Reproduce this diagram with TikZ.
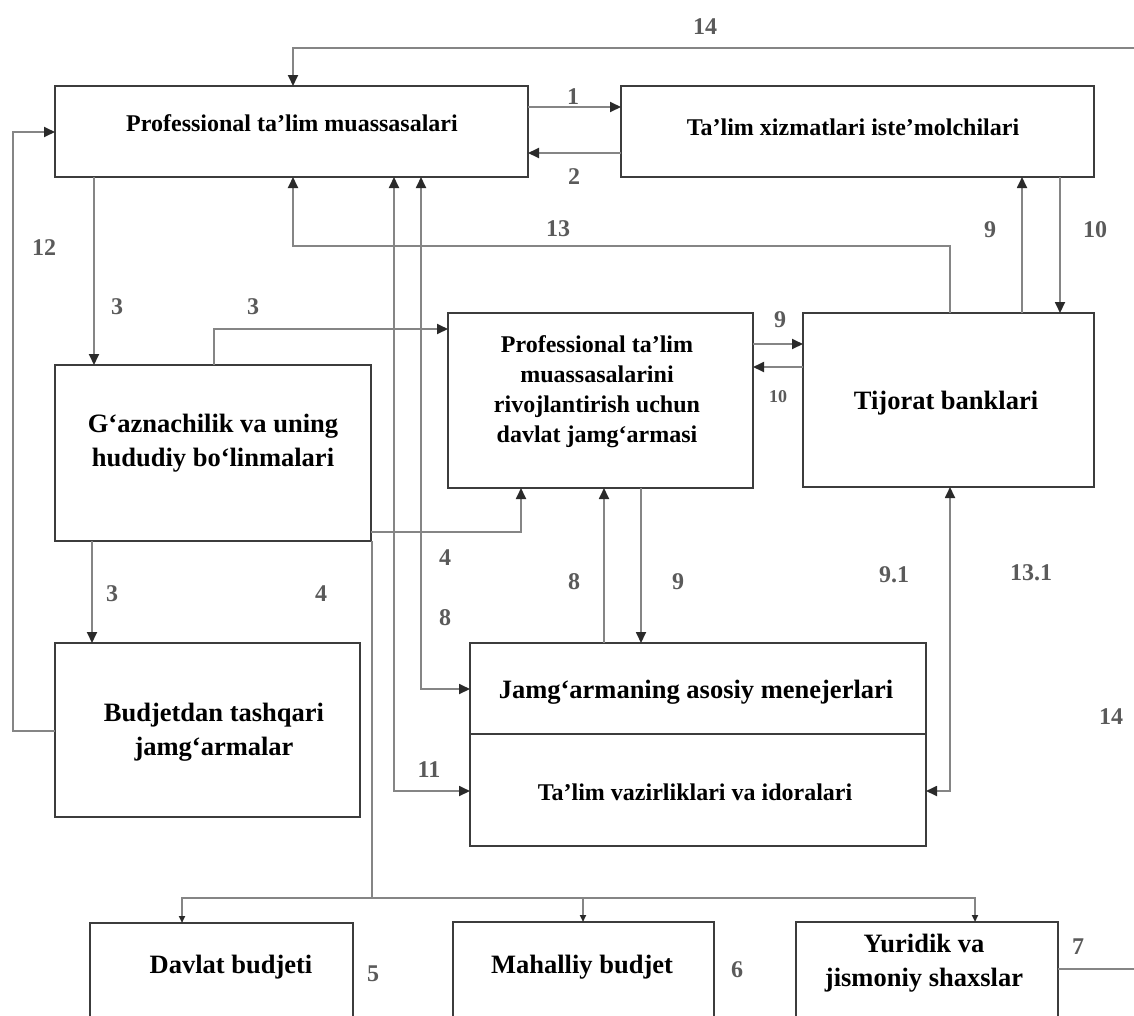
\documentclass[tikz,border=0pt]{standalone}
\usepackage{fontspec}
\setmainfont{Liberation Serif}
\usetikzlibrary{arrows.meta}
\definecolor{boxc}{HTML}{3C3C3C}
\definecolor{linec}{HTML}{858585}
\definecolor{lblc}{HTML}{5A5A5A}
\definecolor{tipc}{HTML}{2A2A2A}
\begin{document}
\begin{tikzpicture}[x=1pt,y=-1pt,
  box/.style={draw=boxc, line width=2.8pt, inner sep=0pt, outer sep=0pt, anchor=north west},
  big/.style={font=\fontsize{26.5}{34}\selectfont\bfseries, align=center, inner sep=0pt},
  med/.style={font=\fontsize{24}{30}\selectfont\bfseries, align=center, inner sep=0pt},
  lbl/.style={font=\fontsize{24}{24}\selectfont\bfseries, text=lblc, inner sep=0pt},
  slbl/.style={font=\fontsize{18}{18}\selectfont\bfseries, text=lblc, inner sep=0pt},
  conn/.style={draw=linec, line width=1.8pt},
  arr/.style={conn, -{Triangle[length=11pt,width=10pt,color=tipc]}},
  darr/.style={conn, {Triangle[length=11pt,width=10pt,color=tipc]}-{Triangle[length=11pt,width=10pt,color=tipc]}},
  sarr/.style={conn, -{Triangle[length=7pt,width=6pt,color=tipc]}},
]
\useasboundingbox (0,0) rectangle (1134,1015);
\clip (0,0) rectangle (1134,1015);

% boxes
\node[box, minimum width=473pt, minimum height=91pt] (p1) at (55,86) {};
\node[box, minimum width=473pt, minimum height=91pt] (p2) at (621,86) {};
\node[box, minimum width=316pt, minimum height=176pt] (gz) at (55,365) {};
\node[box, minimum width=305pt, minimum height=175pt] (fund) at (448,313) {};
\node[box, minimum width=291pt, minimum height=174pt] (bank) at (803,313) {};
\node[box, minimum width=305pt, minimum height=174pt] (bt) at (55,643) {};
\node[box, minimum width=456pt, minimum height=91pt] (jm) at (470,643) {};
\node[box, minimum width=456pt, minimum height=112pt] (tv) at (470,734) {};
\node[box, minimum width=263pt, minimum height=130pt] (db) at (90,923) {};
\node[box, minimum width=261pt, minimum height=130pt] (mb) at (453,922) {};
\node[box, minimum width=262pt, minimum height=130pt] (yj) at (796,922) {};

% texts
\node[med] (p1t) at (292,123) {Professional ta’lim muassasalari};
\node[med] (p2t) at (853,127) {Ta’lim xizmatlari iste’molchilari};
\node[big] (gzt) at (213,443) {G‘aznachilik va uning\\hududiy bo‘linmalari};
\node[med] (fundt) at (597,392) {Professional ta’lim\\muassasalarini\\rivojlantirish uchun\\davlat jamg‘armasi};
\node[big] (bankt) at (946,403) {Tijorat banklari};
\node[big] (btt) at (214,732) {Budjetdan tashqari\\jamg‘armalar};
\node[big] (jmt) at (696,692) {Jamg‘armaning asosiy menejerlari};
\node[med] (tvt) at (695,792) {Ta’lim vazirliklari va idoralari};
\node[big] (dbt) at (231,967) {Davlat budjeti};
\node[big] (mbt) at (582,967) {Mahalliy budjet};
\node[big] (yjt) at (924,963) {Yuridik va\\jismoniy shaxslar};

% connectors
\coordinate (e14) at (1134,48);
\draw[arr] (e14) -| (p1.north -| 293,0);
\draw[arr] (p1.east |- 0,107) -- (p2.west |- 0,107);
\draw[arr] (p2.west |- 0,153) -- (p1.east |- 0,153);
\draw[arr] (bt.west |- 0,731) -- (13,731) |- (p1.west |- 0,132);
\draw[arr] (p1.south -| 94,0) -- (gz.north -| 94,0);
\draw[arr] (gz.north -| 214,0) |- (fund.west |- 0,329);
\draw[arr] (bank.north -| 950,0) |- (293,246) -- (p1.south -| 293,0);
\draw[arr] (bank.north -| 1022,0) -- (p2.south -| 1022,0);
\draw[arr] (p2.south -| 1060,0) -- (bank.north -| 1060,0);
\draw[arr] (fund.east |- 0,344) -- (bank.west |- 0,344);
\draw[arr] (bank.west |- 0,367) -- (fund.east |- 0,367);
\draw[arr] (gz.east |- 0,532) -| (fund.south -| 521,0);
\draw[darr] (p1.south -| 421,0) |- (jm.west |- 0,689);
\draw[darr] (p1.south -| 394,0) |- (tv.west |- 0,791);
\draw[arr] (jm.north -| 604,0) -- (fund.south -| 604,0);
\draw[arr] (fund.south -| 641,0) -- (jm.north -| 641,0);
\draw[arr] (gz.south -| 92,0) -- (bt.north -| 92,0);
\draw[darr] (bank.south -| 950,0) |- (tv.east |- 0,791);
\coordinate (busc) at (372,898);
\draw[conn] (gz.south -| 372,0) -- (busc);
\draw[sarr] (busc) -| (db.north -| 182,0);
\draw[sarr] (busc) -| (mb.north -| 583,0);
\draw[sarr] (busc) -| (yj.north -| 975,0);
\coordinate (e7) at (1134,969);
\draw[conn] (yj.east |- 0,969) -- (e7);

% labels
\node[lbl] (l14a) at (705,27) {14};
\node[lbl] (l1) at (573,97) {1};
\node[lbl] (l2) at (574,177) {2};
\node[lbl] (l12) at (44,248) {12};
\node[lbl] (l13) at (558,229) {13};
\node[lbl] (l9a) at (990,230) {9};
\node[lbl] (l10a) at (1095,230) {10};
\node[lbl] (l3a) at (117,307) {3};
\node[lbl] (l3b) at (253,307) {3};
\node[lbl] (l9b) at (780,320) {9};
\node[slbl] (l10b) at (778,397) {10};
\node[lbl] (l4a) at (445,558) {4};
\node[lbl] (l8a) at (445,618) {8};
\node[lbl] (l3c) at (112,594) {3};
\node[lbl] (l4b) at (321,594) {4};
\node[lbl] (l8b) at (574,582) {8};
\node[lbl] (l9c) at (678,582) {9};
\node[lbl] (l91) at (894,575) {9.1};
\node[lbl] (l131) at (1031,573) {13.1};
\node[lbl] (l14b) at (1111,717) {14};
\node[lbl] (l11) at (429,770) {11};
\node[lbl] (l5) at (373,974) {5};
\node[lbl] (l6) at (737,970) {6};
\node[lbl] (l7) at (1078,947) {7};
\end{tikzpicture}
\end{document}
